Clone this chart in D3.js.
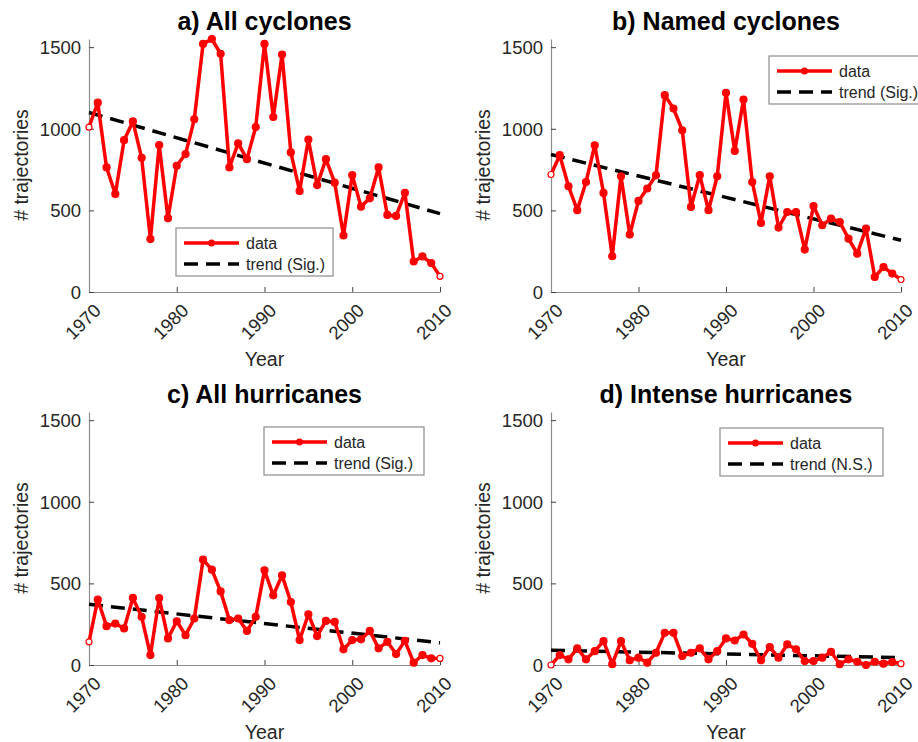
<!DOCTYPE html>
<html>
<head>
<meta charset="utf-8">
<script src="https://cdn.jsdelivr.net/npm/d3@7"></script>
<style>
  body { margin: 0; background: #fff; }
  svg text { font-family: "Liberation Sans", Arial, sans-serif; fill: #262626; }
  .title { font-weight: bold; font-size: 25px; fill: #000; }
  .tick-label { font-size: 18.5px; }
  .axis-label { font-size: 19.5px; }
  .legend-text { font-size: 16px; }
</style>
</head>
<body>
<div id="chart"></div>
<script>
// years 1970..2010
var years = d3.range(1970, 2011);

var allCyclones = [1010, 1160, 763, 600, 930, 1045, 822, 324, 900, 452,
  773, 845, 1058, 1520, 1550, 1459, 763, 910, 814, 1011,
  1520, 1072, 1455, 855, 619, 934, 655, 814, 670, 346,
  716, 523, 574, 763, 472, 466, 608, 187, 218, 177, 96];

var namedCyclones = [720, 838, 648, 501, 674, 899, 607, 219, 709, 352,
  558, 634, 715, 1206, 1124, 991, 521, 716, 501, 709,
  1220, 864, 1179, 674, 423, 709, 395, 490, 490, 260,
  527, 409, 450, 429, 327, 235, 389, 92, 153, 113, 76];

var allHurricanes = [142, 400, 238, 254, 224, 411, 295, 61, 410, 163,
  268, 183, 285, 645, 584, 451, 275, 285, 209, 295,
  580, 427, 549, 386, 153, 311, 177, 270, 264, 96,
  153, 157, 209, 102, 142, 67, 148, 14, 61, 41, 40];

var intenseHurricanes = [0, 61, 35, 102, 35, 85, 146, 5, 146, 29,
  45, 14, 75, 197, 197, 55, 75, 102, 35, 85,
  163, 150, 187, 130, 29, 110, 45, 126, 96, 24,
  24, 45, 81, 5, 35, 20, 0, 20, 8, 18, 8];

// trend value at 1970 and 2010
var trendA = [1100, 480];
var trendB = [842, 317];
var trendC = [372, 136];
var trendD = [90, 45];

var titles = ["a) All cyclones", "b) Named cyclones", "c) All hurricanes", "d) Intense hurricanes"];
var trendLabels = ["trend (Sig.)", "trend (Sig.)", "trend (Sig.)", "trend (N.S.)"];
var yTicks = [0, 500, 1000, 1500];
var xTicks = [1970, 1980, 1990, 2000, 2010];

var W = 918, H = 742;
var svg = d3.select("#chart").append("svg")
    .attr("width", W)
    .attr("height", H);

var panels = [
  {series: allCyclones, trend: trendA, x0: 89, x1: 440, y0: 292, legend: {x: 176, y: 228, w: 157}},
  {series: namedCyclones, trend: trendB, x0: 551, x1: 901, y0: 292, legend: {x: 769, y: 56, w: 163}},
  {series: allHurricanes, trend: trendC, x0: 89, x1: 440, y0: 665, legend: {x: 264, y: 427, w: 160}},
  {series: intenseHurricanes, trend: trendD, x0: 551, x1: 901, y0: 665, legend: {x: 720, y: 428, w: 163}}
];

panels.forEach(function(p, i) {
  var x = d3.scaleLinear().domain([1970, 2010]).range([p.x0, p.x1]);
  var y = d3.scaleLinear().domain([0, 1550]).range([p.y0, p.y0 - 253]);
  var g = svg.append("g");

  // axes (left + bottom only, inward ticks)
  var xAxis = g.append("g")
      .attr("transform", "translate(0," + p.y0 + ")")
      .call(d3.axisBottom(x).tickValues(xTicks).tickSizeInner(-5).tickSizeOuter(0).tickFormat(d3.format("d")));
  var yAxis = g.append("g")
      .attr("transform", "translate(" + p.x0 + ",0)")
      .call(d3.axisLeft(y).tickValues(yTicks).tickSizeInner(-5).tickSizeOuter(0).tickFormat(d3.format("d")));
  [xAxis, yAxis].forEach(function(a) {
    a.select(".domain").attr("stroke", "#8c8c8c").attr("stroke-width", 1.2);
    a.selectAll(".tick line").attr("stroke", "#404040");
  });
  xAxis.selectAll(".tick text")
      .attr("class", "tick-label")
      .attr("fill", "#262626")
      .attr("text-anchor", "end")
      .attr("dy", null)
      .attr("y", 0)
      .attr("transform", "translate(3,10) rotate(-45)")
      .attr("dominant-baseline", "hanging");
  yAxis.selectAll(".tick text")
      .attr("class", "tick-label")
      .attr("fill", "#262626")
      .attr("x", -8)
      .attr("dy", "0.35em");

  // labels
  var cx = (p.x0 + p.x1) / 2;
  g.append("text").attr("class", "title")
      .attr("x", cx).attr("y", p.y0 - 262)
      .attr("text-anchor", "middle")
      .text(titles[i]);
  g.append("text").attr("class", "axis-label")
      .attr("x", cx).attr("y", p.y0 + 74)
      .attr("text-anchor", "middle")
      .text("Year");
  g.append("text").attr("class", "axis-label")
      .attr("transform", "translate(" + (p.x0 - 61) + "," + (p.y0 - 127) + ") rotate(-90)")
      .attr("text-anchor", "middle")
      .text("# trajectories");

  // trend
  g.append("line")
      .attr("x1", x(1970)).attr("y1", y(p.trend[0]))
      .attr("x2", x(2010)).attr("y2", y(p.trend[1]))
      .attr("stroke", "#000")
      .attr("stroke-width", 3.5)
      .attr("stroke-dasharray", "14,8");

  // data
  var line = d3.line()
      .x(function(d, j) { return x(years[j]); })
      .y(function(d) { return y(d); });
  g.append("path")
      .datum(p.series)
      .attr("fill", "none")
      .attr("stroke", "#ff0000")
      .attr("stroke-width", 3.5)
      .attr("stroke-linejoin", "round")
      .attr("d", line);
  g.selectAll(".dot")
      .data(p.series)
      .enter().append("circle")
      .attr("cx", function(d, j) { return x(years[j]); })
      .attr("cy", function(d) { return y(d); })
      .attr("r", function(d, j) { return (j === 0 || j === p.series.length - 1) ? 3 : 3.5; })
      .attr("fill", function(d, j) { return (j === 0 || j === p.series.length - 1) ? "#fff" : "#ff0000"; })
      .attr("stroke", "#ff0000")
      .attr("stroke-width", 1.2);

  // legend
  var L = p.legend;
  var lg = g.append("g").attr("transform", "translate(" + L.x + "," + L.y + ")");
  lg.append("rect")
      .attr("width", L.w).attr("height", 48)
      .attr("fill", "#fff")
      .attr("stroke", "#8c8c8c")
      .attr("stroke-width", 1.2);
  lg.append("line")
      .attr("x1", 8).attr("x2", 63).attr("y1", 15).attr("y2", 15)
      .attr("stroke", "#ff0000").attr("stroke-width", 3.5);
  lg.append("circle")
      .attr("cx", 35.5).attr("cy", 15).attr("r", 3.5)
      .attr("fill", "#ff0000");
  lg.append("text").attr("class", "legend-text")
      .attr("x", 70).attr("y", 15).attr("dy", "0.35em")
      .text("data");
  lg.append("line")
      .attr("x1", 8).attr("x2", 63).attr("y1", 36).attr("y2", 36)
      .attr("stroke", "#000").attr("stroke-width", 3.5)
      .attr("stroke-dasharray", "14,8");
  lg.append("text").attr("class", "legend-text")
      .attr("x", 70).attr("y", 36).attr("dy", "0.35em")
      .text(trendLabels[i]);
});
</script>
</body>
</html>
